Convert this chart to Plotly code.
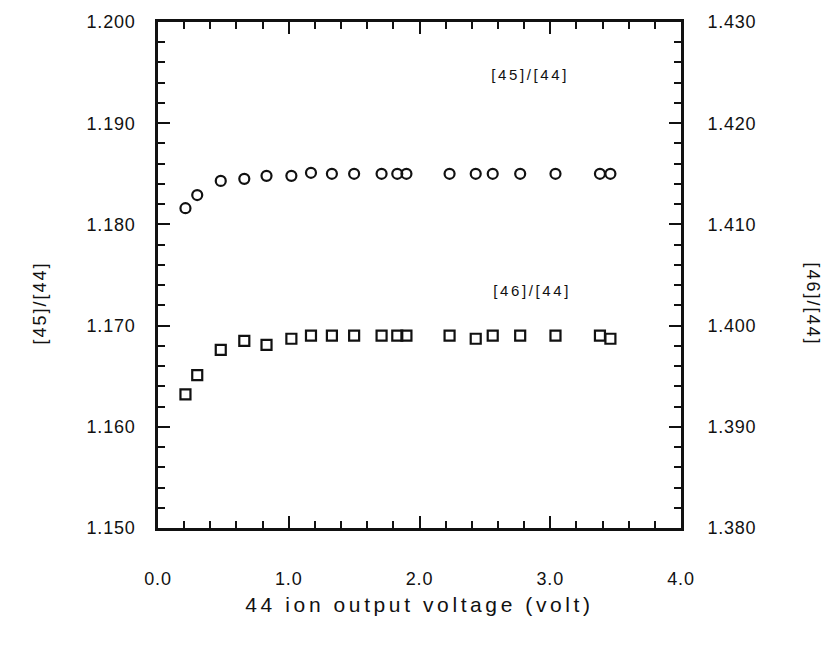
import plotly.graph_objects as go

# Output voltage of the mass-44 ion beam (volt)
voltage = [0.21, 0.30, 0.48, 0.66, 0.83, 1.02, 1.17, 1.33, 1.50, 1.71,
           1.83, 1.90, 2.23, 2.43, 2.56, 2.77, 3.04, 3.38, 3.46]

# Measured isotope ratios
ratio_45_44 = [1.1816, 1.1829, 1.1843, 1.1845, 1.1848, 1.1848, 1.1851, 1.1850,
               1.1850, 1.1850, 1.1850, 1.1850, 1.1850, 1.1850, 1.1850, 1.1850,
               1.1850, 1.1850, 1.1850]
ratio_46_44 = [1.3932, 1.3951, 1.3976, 1.3985, 1.3981, 1.3987, 1.3990, 1.3990,
               1.3990, 1.3990, 1.3990, 1.3990, 1.3990, 1.3987, 1.3990, 1.3990,
               1.3990, 1.3990, 1.3987]

x_ticks = [0.0, 1.0, 2.0, 3.0, 4.0]
left_ticks = [1.150, 1.160, 1.170, 1.180, 1.190, 1.200]
right_ticks = [1.380, 1.390, 1.400, 1.410, 1.420, 1.430]

FONT = "Liberation Sans, Arial, Helvetica, sans-serif"
INK = "#111111"

fig = go.Figure()
fig.add_trace(go.Scatter(
    x=voltage, y=ratio_45_44, mode="markers", yaxis="y",
    marker=dict(symbol="circle-open", size=10, color=INK, line=dict(width=2.2, color=INK)),
    showlegend=False, cliponaxis=False,
))
fig.add_trace(go.Scatter(
    x=voltage, y=ratio_46_44, mode="markers", yaxis="y2",
    marker=dict(symbol="square-open", size=10, color=INK, line=dict(width=2.2, color=INK)),
    showlegend=False, cliponaxis=False,
))

common = dict(
    showgrid=False, zeroline=False, showline=True, linecolor=INK, linewidth=2.6,
    ticks="inside", ticklen=12, tickwidth=2, tickcolor=INK,
    tickfont=dict(family=FONT, size=18, color=INK),
)

fig.update_layout(
    width=836, height=645,
    margin=dict(l=158, r=155, t=14, b=117),
    paper_bgcolor="white", plot_bgcolor="white",
    xaxis=dict(
        range=[0, 4], tickvals=x_ticks, tickformat=".1f", mirror="ticks",
        minor=dict(dtick=0.2, ticklen=7, tickwidth=2, tickcolor=INK, ticks="inside"),
        ticklabelstandoff=33,
        title=dict(text="44 ion output voltage (volt)", standoff=9,
                   font=dict(family=FONT, size=21, color=INK)),
        **common,
    ),
    yaxis=dict(
        range=[1.15, 1.20], tickvals=left_ticks, tickformat=".3f", mirror="ticks",
        minor=dict(dtick=0.002, tick0=1.15, ticklen=7, tickwidth=2, tickcolor=INK, ticks="inside"),
        ticklabelstandoff=16,
        **common,
    ),
    yaxis2=dict(
        range=[1.38, 1.43], tickvals=right_ticks, tickformat=".3f",
        overlaying="y", side="right",
        minor=dict(dtick=0.002, tick0=1.38, ticklen=7, tickwidth=2, tickcolor=INK, ticks="inside"),
        ticklabelstandoff=20,
        **common,
    ),
    annotations=[
        dict(text="[45]/[44]", x=2.845, y=1.1948, xref="x", yref="y", showarrow=False,
             xanchor="center", yanchor="middle",
             font=dict(family=FONT, size=15, color=INK)),
        dict(text="[46]/[44]", x=2.86, y=1.1735, xref="x", yref="y", showarrow=False,
             xanchor="center", yanchor="middle",
             font=dict(family=FONT, size=15, color=INK)),
        dict(text="[45]/[44]", x=-0.2256, y=0.4436, xref="paper", yref="paper",
             showarrow=False, textangle=-90, xanchor="center", yanchor="middle",
             font=dict(family=FONT, size=18, color=INK)),
        dict(text="[46]/[44]", x=1.2524, y=0.4436, xref="paper", yref="paper",
             showarrow=False, textangle=90, xanchor="center", yanchor="middle",
             font=dict(family=FONT, size=18, color=INK)),
    ],
)

# Widen the tracking of the typeset labels once the figure has been drawn
spacing_js = """
var gd = document.getElementById('{plot_id}');
function track(sel, v) {
  gd.querySelectorAll(sel).forEach(function (e) { e.style.letterSpacing = v; });
}
track('.xtitle', '3.6px');
track('g.annotation[data-index="0"] text, g.annotation[data-index="1"] text', '2.6px');
track('g.annotation[data-index="2"] text, g.annotation[data-index="3"] text', '2px');
track('.xtick text, .ytick text, .y2tick text', '0.8px');
"""

fig.write_html("out.html", post_script=spacing_js)
